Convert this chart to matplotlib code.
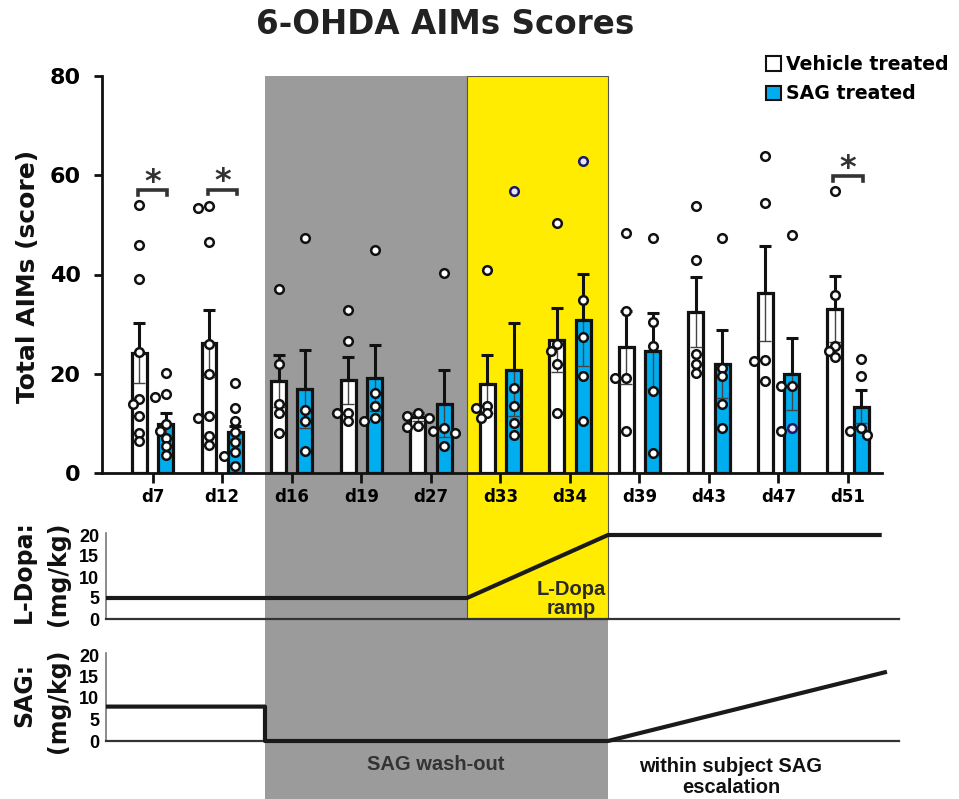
import matplotlib
matplotlib.use("Agg")
import matplotlib.pyplot as plt
from matplotlib.patches import Patch

# ---------------- data ----------------
days = ["d7", "d12", "d16", "d19", "d27", "d33", "d34", "d39", "d43", "d47", "d51"]

veh_mean = [24.2, 26.1, 18.5, 18.7, 11.2, 17.9, 26.8, 25.3, 32.4, 36.2, 33.0]
veh_sem = [6.0, 6.7, 5.3, 4.7, 0.8, 5.9, 6.5, 7.3, 7.0, 9.6, 6.6]
sag_mean = [9.9, 8.2, 16.9, 19.1, 14.0, 20.8, 30.8, 24.6, 22.0, 20.0, 13.4]
sag_sem = [2.2, 1.3, 7.9, 6.7, 6.8, 9.4, 9.3, 7.6, 6.8, 7.3, 3.4]

veh_pts = [
    [54.0, 46.0, 39.0, 24.4, 15.0, 13.9, 11.5, 8.1, 6.5],
    [53.9, 53.3, 46.5, 26.0, 20.0, 11.5, 11.0, 7.5, 5.6],
    [37.1, 22.0, 14.0, 12.0, 8.0],
    [32.9, 26.5, 12.0, 12.0, 10.4],
    [11.1, 12.0, 11.5, 9.2, 9.5],
    [41.0, 13.0, 13.6, 12.0, 11.0],
    [50.4, 26.0, 24.5, 22.0, 12.0],
    [48.4, 32.6, 19.1, 19.1, 8.5],
    [53.9, 43.0, 24.0, 22.0, 20.1],
    [63.9, 54.4, 22.8, 22.5, 18.6],
    [56.9, 35.9, 25.5, 24.5, 23.3],
]
sag_pts = [
    [20.1, 15.9, 15.4, 9.9, 8.5, 7.0, 5.4, 3.6],
    [18.1, 13.0, 10.5, 8.3, 6.3, 4.2, 3.5, 1.5],
    [47.4, 12.6, 10.5, 4.5],
    [45.0, 16.1, 13.6, 11.1, 10.5],
    [40.4, 9.0, 8.5, 8.1, 5.5],
    [56.9, 17.1, 13.6, 10.1, 7.7],
    [62.9, 34.9, 27.5, 19.5, 10.5],
    [47.4, 30.5, 25.5, 16.6, 4.0],
    [47.4, 21.1, 19.5, 14.0, 9.0],
    [48.0, 17.5, 17.5, 9.0, 8.5],
    [23.0, 19.5, 9.0, 8.5, 7.7],
]
# SAG-group points drawn with a navy outline in the original
sag_highlight = [("d33", 56.9), ("d34", 62.9), ("d47", 9.0)]

sig_days = ["d7", "d12", "d51"]
sig_heights = [57.0, 57.1, 59.8]

# dosing schedule (x in category units of the shared day axis)
washout_start = 1.615
ramp_start = 4.52
ramp_end = 6.548
ldopa_x = [-0.672, ramp_start, ramp_end, 10.485]
ldopa_dose = [5, 5, 20, 20]
sag_x = [-0.672, washout_start, washout_start, ramp_end, 10.56]
sag_dose = [8, 8, 0, 0, 16.1]

y_ticks_top = [0, 20, 40, 60, 80]
y_ticks_dose = [0, 5, 10, 15, 20]

# ---------------- style ----------------
W, H = 959, 799
BLUE = "#00aeef"
GRAY = "#9b9b9b"
YELLOW = "#ffec00"
INK = "#111111"

plt.rcParams["font.family"] = ["DejaVu Sans"]
plt.rcParams["font.weight"] = "bold"

fig = plt.figure(figsize=(W / 100, H / 100), dpi=100)


def fx(px):
    return px / W


def fy(py):
    return 1 - py / H


PXU = 69.53   # px per category
X0 = 152.7    # px of first category


def xd(px):
    return (px - X0) / PXU


# axes geometry
top_l, top_r, top_t, top_b = 101.5, 882, 76, 473
low_l, low_r = 106, 899

bg = fig.add_axes([fx(top_l), 0, fx(top_r) - fx(top_l), fy(top_t)], zorder=0)
bg.set_xlim(xd(top_l), xd(top_r))
bg.set_ylim(0, 1)
bg.axis("off")
yel_frac = (H - 619) / (H - top_t)
bg.axvspan(washout_start, ramp_start, 0, 1, color=GRAY, lw=0)
bg.axvspan(ramp_start, ramp_end, 0, yel_frac, color=GRAY, lw=0)
bg.axvspan(ramp_start, ramp_end, yel_frac, 1, facecolor=YELLOW,
           edgecolor="#555555", lw=0.8)

ax = fig.add_axes([fx(top_l), fy(top_b), fx(top_r) - fx(top_l), fy(top_t) - fy(top_b)], zorder=2)
ax.patch.set_alpha(0)
ax.set_xlim(xd(top_l), xd(top_r))
ax.set_ylim(0, 80)

off = 0.19
bw = 0.215
xs = list(range(len(days)))
ypx = (top_b - top_t) / 80.0


def swarm(vals, diam=7.5, cands=(0, -6, 6, -11, 11)):
    placed = []
    offs = [0.0] * len(vals)
    order = sorted(range(len(vals)), key=lambda i: -vals[i])
    for i in order:
        y = vals[i] * ypx
        xo = 0.0
        for c in cands:
            xo = c
            if all((xo - a) ** 2 + (y - b) ** 2 >= diam ** 2 for a, b in placed):
                break
        placed.append((xo, y))
        offs[i] = xo / PXU
    return offs


for grp, means, sems, pts, fc, sgn in [
    ("veh", veh_mean, veh_sem, veh_pts, "white", -1),
    ("sag", sag_mean, sag_sem, sag_pts, BLUE, 1),
]:
    cx = [x + sgn * off for x in xs]
    ax.bar(cx, means, width=bw, color=fc, edgecolor=INK, linewidth=2.3, zorder=3)
    # lower whisker (inside bar), thin
    ax.errorbar(cx, means, yerr=[sems, [0] * len(sems)], fmt="none", ecolor="#444444",
                elinewidth=1.0, capsize=4, capthick=1.0, zorder=4)
    # upper whisker
    ax.errorbar(cx, means, yerr=[[0] * len(sems), sems], fmt="none", ecolor=INK,
                elinewidth=2.2, capsize=4.5, capthick=2.2, zorder=4)
    for i, vals in enumerate(pts):
        offs = swarm(vals)
        for v, o in zip(vals, offs):
            ec = INK
            mfc = "white"
            if grp == "sag" and (days[i], v) in sag_highlight:
                ec = "#1b1b6b"
                mfc = "#e8e8f4"
            ax.plot(cx[i] + o, v, "o", ms=6.2, mfc=mfc, mec=ec, mew=1.8, zorder=5,
                    clip_on=False)

# significance brackets
for d, h in zip(sig_days, sig_heights):
    i = days.index(d)
    x1, x2 = i - off - 0.02, i + off + 0.02
    ax.plot([x1, x1, x2, x2], [h - 0.9, h, h, h - 0.9], color="#333333", lw=2.6,
            solid_joinstyle="miter", zorder=6)
    ax.text(i, h - 1.5, "*", ha="center", va="bottom", fontsize=23, fontweight="bold",
            color="#333333", zorder=6)

for s in ["top", "right"]:
    ax.spines[s].set_visible(False)
for s in ["left", "bottom"]:
    ax.spines[s].set_linewidth(2.0)
    ax.spines[s].set_color(INK)
ax.set_yticks(y_ticks_top)
ax.set_yticklabels([str(t) for t in y_ticks_top], fontsize=16, fontweight="bold")
ax.set_xticks(xs)
ax.set_xticklabels(days, fontsize=12, fontweight="bold")
ax.tick_params(axis="y", length=6, width=2, pad=9, color=INK)
ax.tick_params(axis="x", length=7, width=2, pad=4, color=INK)

fig.text(fx(28), fy(276), "Total AIMs (score)", rotation=90, ha="center", va="center",
         fontsize=18, fontweight="bold", color=INK)
fig.text(fx(445), fy(25), "6-OHDA AIMs Scores", ha="center", va="center",
         fontsize=23.5, fontweight="bold", color="#222222")

handles = [Patch(facecolor="white", edgecolor=INK, lw=1.5, label="Vehicle treated"),
           Patch(facecolor=BLUE, edgecolor=INK, lw=1.5, label="SAG treated")]
fig.legend(handles=handles, loc="upper left", bbox_to_anchor=(fx(766), fy(55)),
           frameon=False, handlelength=0.8, handleheight=0.8,
           handletextpad=0.25, labelspacing=0.55, borderpad=0, borderaxespad=0,
           prop={"weight": "bold", "size": 13.6})

# ---------------- dose panels ----------------
def dose_axes(top, bottom):
    a = fig.add_axes([fx(low_l), fy(bottom), fx(low_r) - fx(low_l), fy(top) - fy(bottom)], zorder=2)
    a.patch.set_alpha(0)
    a.set_xlim(xd(low_l), xd(low_r))
    a.set_ylim(0, 20 * (bottom - top) / (bottom - top - 2))
    for s in ["top", "right"]:
        a.spines[s].set_visible(False)
    a.spines["bottom"].set_linewidth(1.6)
    a.spines["bottom"].set_color("#333333")
    a.spines["left"].set_linewidth(1.2)
    a.spines["left"].set_color("#777777")
    a.set_xticks([])
    a.set_yticks(y_ticks_dose)
    a.set_yticklabels([str(t) for t in y_ticks_dose], family=["Liberation Sans", "DejaVu Sans"],
                      fontsize=13, fontweight="bold")
    a.tick_params(axis="y", length=0, pad=5)
    return a


ax_ld = dose_axes(533, 619)
ax_ld.plot(ldopa_x, ldopa_dose, color="#1a1a1a", lw=3.0, solid_capstyle="butt", clip_on=False, zorder=4)
ax_sg = dose_axes(653, 741)
ax_sg.plot(sag_x, sag_dose, color="#1a1a1a", lw=3.0, solid_capstyle="butt", clip_on=False, zorder=4)

for txt, x, y in [("L-Dopa:", 24, 572), ("(mg/kg)", 58, 574), ("SAG:", 24, 695), ("(mg/kg)", 58, 701)]:
    fig.text(fx(x), fy(y), txt, rotation=90, ha="center", va="center", fontsize=17,
             fontweight="bold", color=INK)

LS = ["Liberation Sans", "DejaVu Sans"]
fig.text(fx(571), fy(599), "L-Dopa\nramp", ha="center", va="center", family=LS,
         fontsize=14.5, fontweight="bold", color="#2a2a2a", linespacing=1.05, zorder=5)
fig.text(fx(436), fy(765), "SAG wash-out", ha="center", va="center", family=LS,
         fontsize=14.5, fontweight="bold", color="#333333")
fig.text(fx(731), fy(777), "within subject SAG\nescalation", ha="center", va="center",
         family=LS, fontsize=14.5, fontweight="bold", color=INK, linespacing=1.15)

fig.savefig("out.png", dpi=100)
